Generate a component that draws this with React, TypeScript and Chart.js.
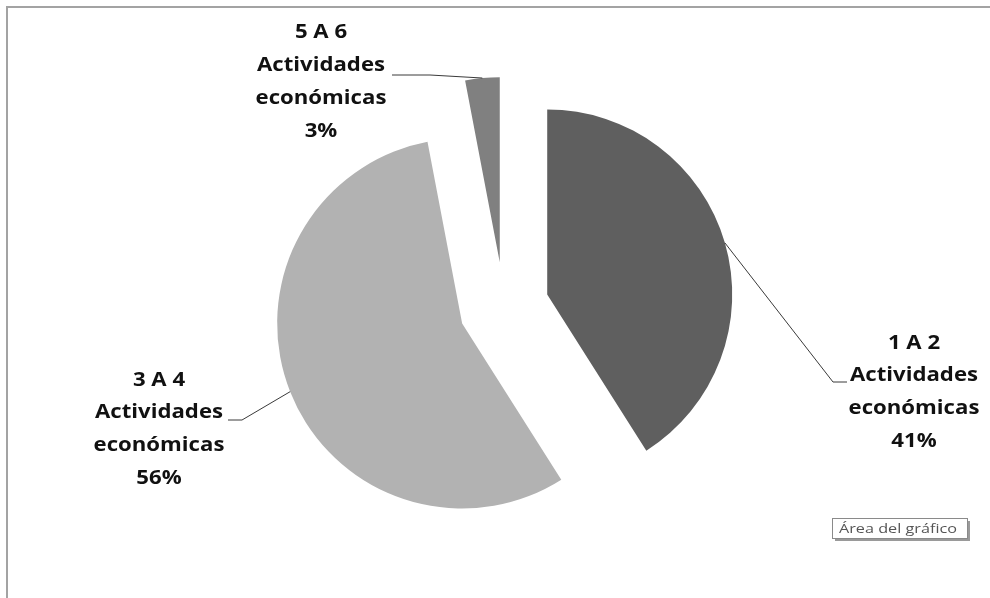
import React, { useEffect, useRef } from "react";
import { Chart, registerables } from "chart.js";

Chart.register(...registerables);

// ---- data ----
const categories = ["1 A 2", "3 A 4", "5 A 6"];
const categorySuffix = ["Actividades", "económicas"];
const values = [41, 56, 3];
const sliceColors = ["#5f5f5f", "#b2b2b2", "#808080"];
const chartAreaCaption = "Área del gráfico";

// ---- layout / style (not data) ----
const W = 990;
const H = 598;
const EXPLODE = 45;
const RADIUS = 185;
const LABEL_TARGET_WIDTH = 128; // width of "Actividades"
const labelLayout = [
  { cx: 914, y0: 343, gap: 32.7, path: [[833, 382], [847, 382]] },
  { cx: 159, y0: 380, gap: 32.7, path: [[242, 420], [228, 420]] },
  { cx: 321, y0: 32, gap: 33, path: [[430, 75], [392, 75]] },
];

const explodePlugin = {
  id: "explodeSlices",
  afterDatasetsUpdate(chart: any) {
    const meta = chart.getDatasetMeta(0);
    meta.data.forEach((el: any) => {
      const mid = (el.startAngle + el.endAngle) / 2;
      el.x = el.x + Math.cos(mid) * EXPLODE;
      el.y = el.y + Math.sin(mid) * EXPLODE;
    });
  },
};

const framePlugin = {
  id: "frame",
  beforeDraw(chart: any) {
    const ctx = chart.ctx;
    ctx.save();
    ctx.fillStyle = "#ffffff";
    ctx.fillRect(0, 0, W, H);
    ctx.strokeStyle = "#a3a3a3";
    ctx.lineWidth = 2;
    ctx.beginPath();
    ctx.moveTo(7, H);
    ctx.lineTo(7, 7);
    ctx.lineTo(W, 7);
    ctx.stroke();
    ctx.restore();
  },
};

const labelsPlugin = {
  id: "sliceLabels",
  afterDraw(chart: any) {
    const ctx = chart.ctx;
    const meta = chart.getDatasetMeta(0);
    const total = values.reduce((a, b) => a + b, 0);
    ctx.save();
    // leader lines
    ctx.strokeStyle = "#3a3a3a";
    ctx.lineWidth = 1;
    meta.data.forEach((el: any, i: number) => {
      const mid = (el.startAngle + el.endAngle) / 2;
      const sx = el.x + Math.cos(mid) * el.outerRadius;
      const sy = el.y + Math.sin(mid) * el.outerRadius;
      const lay = labelLayout[i];
      ctx.beginPath();
      ctx.moveTo(sx, sy);
      lay.path.forEach((p) => ctx.lineTo(p[0], p[1]));
      ctx.stroke();
    });
    // text
    const fontSize = 20;
    ctx.font = `bold ${fontSize}px "Open Sans"`;
    const w = ctx.measureText(categorySuffix[0]).width;
    const sx = LABEL_TARGET_WIDTH / w;
    ctx.fillStyle = "#111111";
    ctx.textAlign = "center";
    ctx.textBaseline = "middle";
    categories.forEach((cat, i) => {
      const lay = labelLayout[i];
      const pct = Math.round((values[i] / total) * 100) + "%";
      const lines = [cat, ...categorySuffix, pct];
      lines.forEach((t, j) => {
        ctx.save();
        ctx.translate(lay.cx, lay.y0 + j * lay.gap);
        ctx.scale(sx, 1);
        ctx.fillText(t, 0, 0);
        ctx.restore();
      });
    });
    // caption box
    const bx = 832, by = 518, bw = 135, bh = 20;
    ctx.fillStyle = "#9a9a9a";
    ctx.fillRect(bx + 3, by + 3, bw, bh);
    ctx.fillStyle = "#ffffff";
    ctx.fillRect(bx, by, bw, bh);
    ctx.strokeStyle = "#8a8a8a";
    ctx.lineWidth = 1;
    ctx.strokeRect(bx + 0.5, by + 0.5, bw, bh);
    ctx.font = `13px "Open Sans"`;
    const cw = ctx.measureText(chartAreaCaption).width;
    ctx.fillStyle = "#555555";
    ctx.textAlign = "left";
    ctx.textBaseline = "middle";
    ctx.save();
    ctx.translate(839, by + bh / 2 + 1);
    ctx.scale(118 / cw, 1);
    ctx.fillText(chartAreaCaption, 0, 0);
    ctx.restore();
    ctx.restore();
  },
};

export default function App() {
  const ref = useRef<HTMLCanvasElement | null>(null);
  useEffect(() => {
    if (!ref.current) return;
    const chart = new Chart(ref.current, {
      type: "pie",
      data: {
        labels: categories.map((c) => `${c} ${categorySuffix.join(" ")}`),
        datasets: [
          {
            data: values,
            backgroundColor: sliceColors,
            borderWidth: 0,
          },
        ],
      },
      options: {
        responsive: false,
        animation: false,
        devicePixelRatio: 1,
        radius: RADIUS,
        rotation: 0,
        layout: { padding: { left: 18, right: 0, top: 16, bottom: 0 } },
        plugins: {
          legend: { display: false },
          tooltip: { enabled: false },
        },
        events: [],
      } as any,
      plugins: [framePlugin, explodePlugin, labelsPlugin],
    });
    return () => chart.destroy();
  }, []);
  return (
    <div style={{ position: "fixed", left: 0, top: 0, width: W, height: H, background: "#fff" }}>
      <canvas ref={ref} width={W} height={H} style={{ display: "block", width: W, height: H }} />
    </div>
  );
}
